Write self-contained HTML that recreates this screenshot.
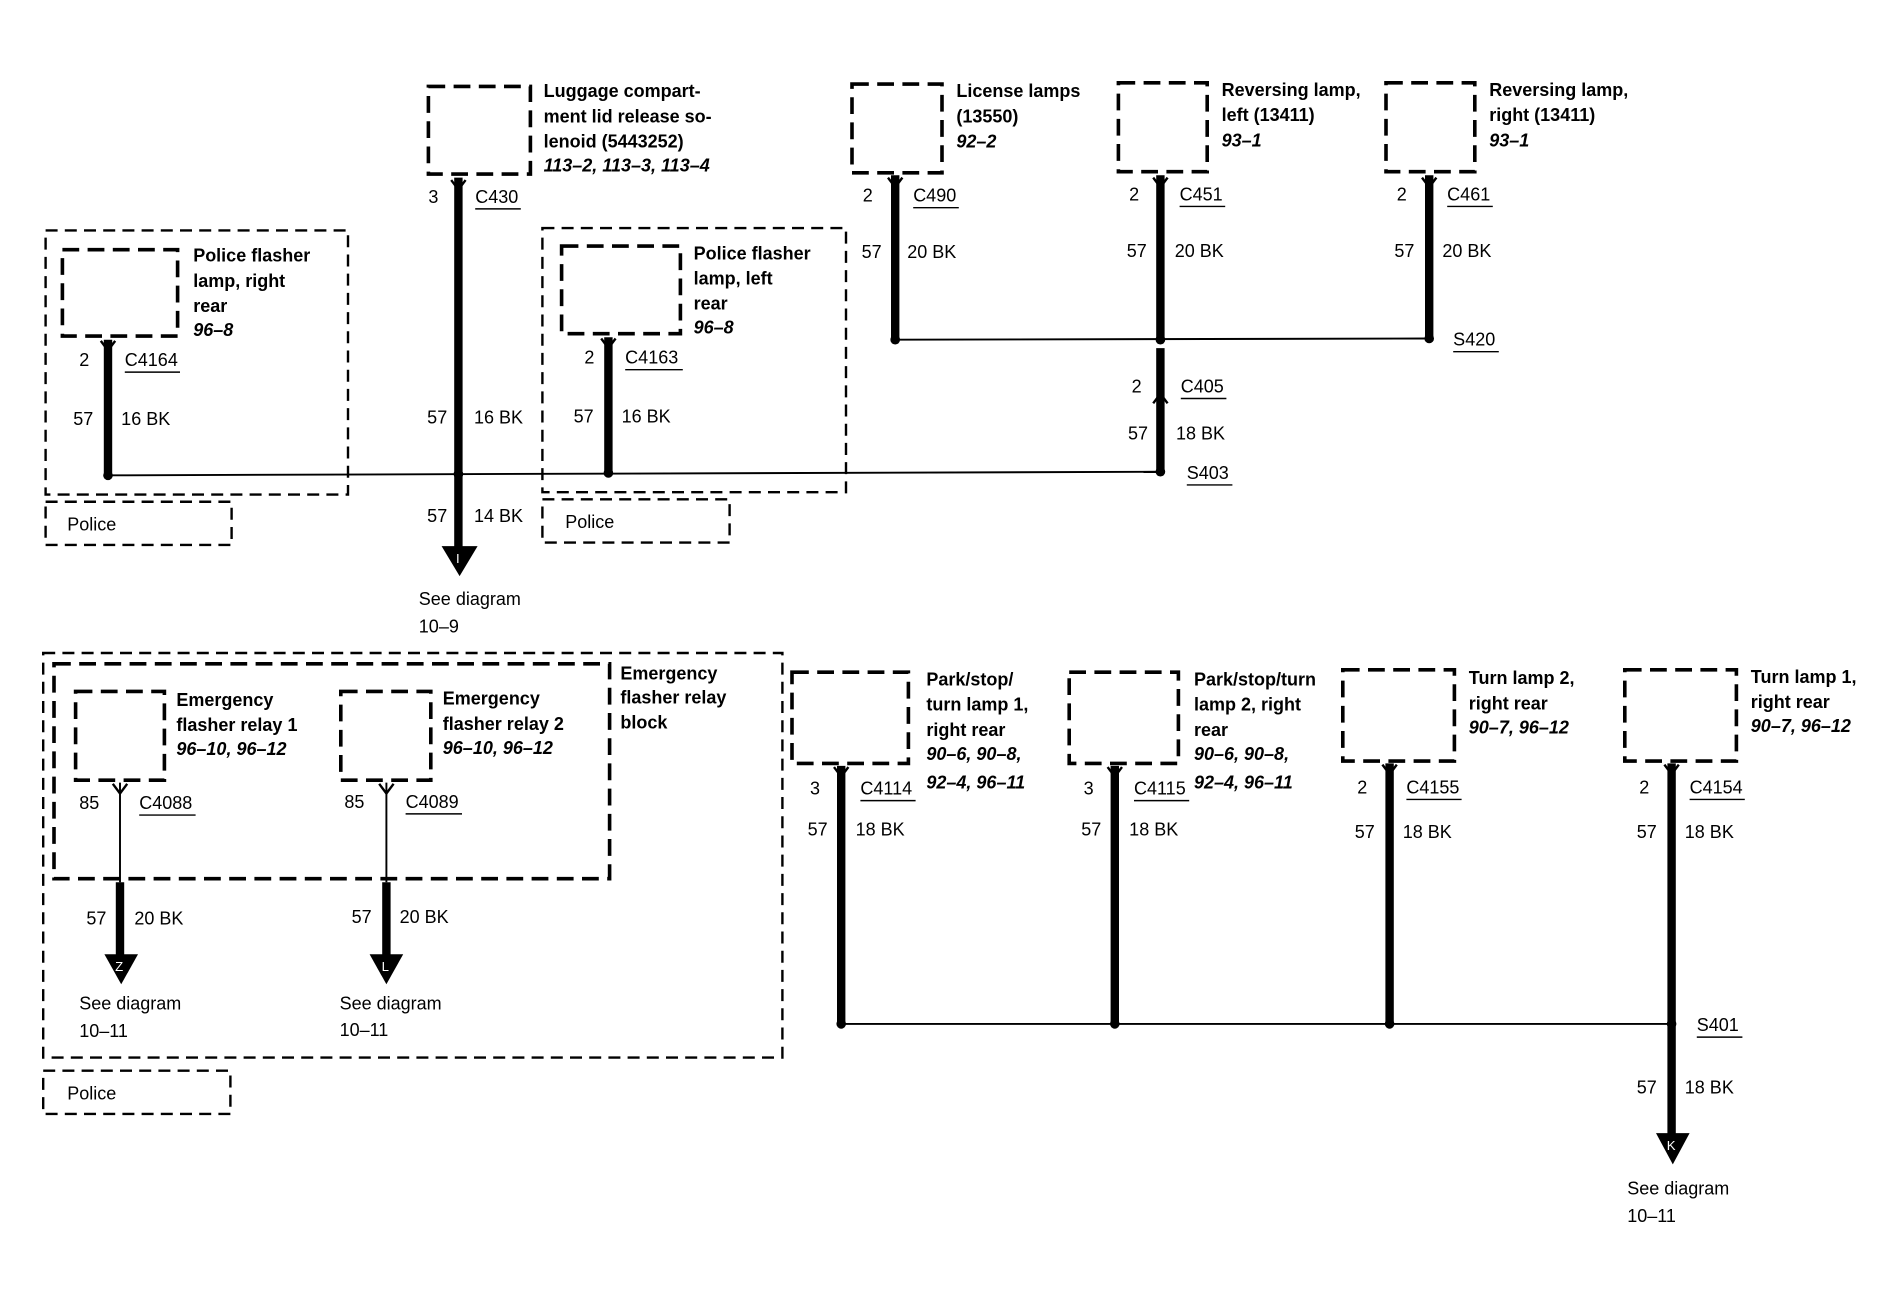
<!DOCTYPE html>
<html><head><meta charset="utf-8"><style>
html,body{margin:0;padding:0;background:#fff;}
svg{display:block}
text{font-family:"Liberation Sans",Arial,sans-serif;font-size:15px;fill:#000}
.b{font-weight:bold}
.i{font-weight:bold;font-style:italic}
.box{fill:none;stroke:#000;stroke-width:3;stroke-dasharray:14,7}
.obox{fill:none;stroke:#000;stroke-width:2;stroke-dasharray:10,6}
.w{stroke:#000;stroke-width:7}
.t{stroke:#000;stroke-width:1.6}
.u{stroke:#000;stroke-width:1.2}
</style></head><body>
<svg width="1884" height="1312" viewBox="0 0 1570 1093" preserveAspectRatio="none" xmlns="http://www.w3.org/2000/svg">
<defs>
<g id="chev"><path d="M-6,-6 L0,2 L6,-6" fill="none" stroke="#000" stroke-width="2"/></g>
</defs>

<!-- Luggage -->
<rect class="box" x="357" y="72" width="85" height="73"/>
<text class="b" x="453" y="81">Luggage compart-</text>
<text class="b" x="453" y="102">ment lid release so-</text>
<text class="b" x="453" y="123">lenoid (5443252)</text>
<text class="i" x="453" y="143">113–2, 113–3, 113–4</text>
<line class="w" x1="382" y1="148" x2="382" y2="457"/>
<use href="#chev" x="382" y="156"/>
<text x="357" y="169">3</text><text x="396" y="169">C430</text><line class="u" x1="396" y1="174" x2="434" y2="174"/>
<text x="356" y="353">57</text><text x="395" y="353">16 BK</text>
<text x="356" y="435">57</text><text x="395" y="435">14 BK</text>
<polygon points="368,455 398,455 383,480"/>
<text x="380" y="469" style="fill:#fff;font-size:11px">I</text>
<text x="349" y="504">See diagram</text><text x="349" y="527">10–9</text>

<!-- Police right rear -->
<rect class="obox" x="38" y="192" width="252" height="220"/>
<rect class="box" x="52" y="208" width="96" height="72"/>
<text class="b" x="161" y="218">Police flasher</text>
<text class="b" x="161" y="239">lamp, right</text>
<text class="b" x="161" y="260">rear</text>
<text class="i" x="161" y="280">96–8</text>
<line class="w" x1="90" y1="283" x2="90" y2="394"/>
<use href="#chev" x="90" y="290"/>
<text x="66" y="305">2</text><text x="104" y="305">C4164</text><line class="u" x1="104" y1="310" x2="150" y2="310"/>
<text x="61" y="354">57</text><text x="101" y="354">16 BK</text>
<rect class="obox" x="38" y="418" width="155" height="36"/>
<text x="56" y="442">Police</text>

<!-- Police left rear -->
<rect class="obox" x="452" y="190" width="253" height="220"/>
<rect class="box" x="468" y="205" width="99" height="73"/>
<text class="b" x="578" y="216">Police flasher</text>
<text class="b" x="578" y="237">lamp, left</text>
<text class="b" x="578" y="258">rear</text>
<text class="i" x="578" y="278">96–8</text>
<line class="w" x1="507" y1="281" x2="507" y2="392"/>
<use href="#chev" x="507" y="288"/>
<text x="487" y="303">2</text><text x="521" y="303">C4163</text><line class="u" x1="521" y1="308" x2="569" y2="308"/>
<text x="478" y="352">57</text><text x="518" y="352">16 BK</text>
<rect class="obox" x="452" y="416" width="156" height="36"/>
<text x="471" y="440">Police</text>

<!-- horizontal S403 -->
<line class="t" x1="90" y1="396" x2="967" y2="393"/>
<circle cx="90" cy="396" r="4"/><circle cx="382" cy="395" r="4"/><circle cx="507" cy="394" r="4"/><circle cx="967" cy="393" r="4"/>
<text x="989" y="399">S403</text><line class="u" x1="989" y1="404" x2="1027" y2="404"/>

<!-- License lamps -->
<rect class="box" x="710" y="70" width="75" height="74"/>
<text class="b" x="797" y="81">License lamps</text>
<text class="b" x="797" y="102">(13550)</text>
<text class="i" x="797" y="123">92–2</text>
<line class="w" x1="746" y1="146" x2="746" y2="283"/>
<use href="#chev" x="746" y="154"/>
<text x="719" y="168">2</text><text x="761" y="168">C490</text><line class="u" x1="761" y1="173" x2="799" y2="173"/>
<text x="718" y="215">57</text><text x="756" y="215">20 BK</text>

<!-- Reversing left -->
<rect class="box" x="932" y="69" width="74" height="74"/>
<text class="b" x="1018" y="80">Reversing lamp,</text>
<text class="b" x="1018" y="101">left (13411)</text>
<text class="i" x="1018" y="122">93–1</text>
<line class="w" x1="967" y1="146" x2="967" y2="283"/>
<use href="#chev" x="967" y="154"/>
<text x="941" y="167">2</text><text x="983" y="167">C451</text><line class="u" x1="983" y1="172" x2="1021" y2="172"/>
<text x="939" y="214">57</text><text x="979" y="214">20 BK</text>

<!-- Reversing right -->
<rect class="box" x="1155" y="69" width="74" height="74"/>
<text class="b" x="1241" y="80">Reversing lamp,</text>
<text class="b" x="1241" y="101">right (13411)</text>
<text class="i" x="1241" y="122">93–1</text>
<line class="w" x1="1191" y1="146" x2="1191" y2="282"/>
<use href="#chev" x="1191" y="154"/>
<text x="1164" y="167">2</text><text x="1206" y="167">C461</text><line class="u" x1="1206" y1="172" x2="1244" y2="172"/>
<text x="1162" y="214">57</text><text x="1202" y="214">20 BK</text>

<line class="t" x1="746" y1="283" x2="1191" y2="282"/>
<circle cx="746" cy="283" r="4"/><circle cx="967" cy="283" r="4"/><circle cx="1191" cy="282" r="4"/>
<text x="1211" y="288">S420</text><line class="u" x1="1211" y1="293" x2="1249" y2="293"/>

<line class="w" x1="967" y1="290" x2="967" y2="393"/>
<path d="M961,336 L967,328 L973,336" fill="none" stroke="#000" stroke-width="2"/>
<text x="943" y="327">2</text><text x="984" y="327">C405</text><line class="u" x1="984" y1="332" x2="1022" y2="332"/>
<text x="940" y="366">57</text><text x="980" y="366">18 BK</text>

<!-- Relay block -->
<rect class="obox" x="36" y="544" width="616" height="337"/>
<rect class="box" x="45" y="553" width="463" height="179"/>
<text class="b" x="517" y="566">Emergency</text>
<text class="b" x="517" y="586">flasher relay</text>
<text class="b" x="517" y="607">block</text>

<rect class="box" x="63" y="576" width="74" height="74"/>
<text class="b" x="147" y="588">Emergency</text>
<text class="b" x="147" y="609">flasher relay 1</text>
<text class="i" x="147" y="629">96–10, 96–12</text>
<line class="t" x1="100" y1="652" x2="100" y2="735"/>
<use href="#chev" x="100" y="659"/>
<line class="w" x1="100" y1="735" x2="100" y2="797"/>
<polygon points="87,795 115,795 101,820"/>
<text x="96" y="809" style="fill:#fff;font-size:11px">Z</text>
<text x="66" y="674">85</text><text x="116" y="674">C4088</text><line class="u" x1="116" y1="679" x2="163" y2="679"/>
<text x="72" y="770">57</text><text x="112" y="770">20 BK</text>
<text x="66" y="841">See diagram</text><text x="66" y="864">10–11</text>

<rect class="box" x="284" y="576" width="75" height="74"/>
<text class="b" x="369" y="587">Emergency</text>
<text class="b" x="369" y="608">flasher relay 2</text>
<text class="i" x="369" y="628">96–10, 96–12</text>
<line class="t" x1="322" y1="652" x2="322" y2="735"/>
<use href="#chev" x="322" y="659"/>
<line class="w" x1="322" y1="735" x2="322" y2="797"/>
<polygon points="308,795 336,795 322,820"/>
<text x="318" y="809" style="fill:#fff;font-size:11px">L</text>
<text x="287" y="673">85</text><text x="338" y="673">C4089</text><line class="u" x1="338" y1="678" x2="385" y2="678"/>
<text x="293" y="769">57</text><text x="333" y="769">20 BK</text>
<text x="283" y="841">See diagram</text><text x="283" y="863">10–11</text>

<rect class="obox" x="36" y="892" width="156" height="36"/>
<text x="56" y="916">Police</text>

<!-- Bottom right -->
<rect class="box" x="660" y="560" width="97" height="76"/>
<text class="b" x="772" y="571">Park/stop/</text>
<text class="b" x="772" y="592">turn lamp 1,</text>
<text class="b" x="772" y="613">right rear</text>
<text class="i" x="772" y="633">90–6, 90–8,</text>
<text class="i" x="772" y="657">92–4, 96–11</text>
<line class="w" x1="701" y1="638" x2="701" y2="853"/>
<use href="#chev" x="701" y="645"/>
<text x="675" y="662">3</text><text x="717" y="662">C4114</text><line class="u" x1="717" y1="667" x2="763" y2="667"/>
<text x="673" y="696">57</text><text x="713" y="696">18 BK</text>

<rect class="box" x="891" y="560" width="91" height="76"/>
<text class="b" x="995" y="571">Park/stop/turn</text>
<text class="b" x="995" y="592">lamp 2, right</text>
<text class="b" x="995" y="613">rear</text>
<text class="i" x="995" y="633">90–6, 90–8,</text>
<text class="i" x="995" y="657">92–4, 96–11</text>
<line class="w" x1="929" y1="638" x2="929" y2="853"/>
<use href="#chev" x="929" y="645"/>
<text x="903" y="662">3</text><text x="945" y="662">C4115</text><line class="u" x1="945" y1="667" x2="991" y2="667"/>
<text x="901" y="696">57</text><text x="941" y="696">18 BK</text>

<rect class="box" x="1119" y="558" width="93" height="76"/>
<text class="b" x="1224" y="570">Turn lamp 2,</text>
<text class="b" x="1224" y="591">right rear</text>
<text class="i" x="1224" y="611">90–7, 96–12</text>
<line class="w" x1="1158" y1="636" x2="1158" y2="853"/>
<use href="#chev" x="1158" y="643"/>
<text x="1131" y="661">2</text><text x="1172" y="661">C4155</text><line class="u" x1="1172" y1="666" x2="1218" y2="666"/>
<text x="1129" y="698">57</text><text x="1169" y="698">18 BK</text>

<rect class="box" x="1354" y="558" width="93" height="76"/>
<text class="b" x="1459" y="569">Turn lamp 1,</text>
<text class="b" x="1459" y="590">right rear</text>
<text class="i" x="1459" y="610">90–7, 96–12</text>
<line class="w" x1="1393" y1="636" x2="1393" y2="946"/>
<use href="#chev" x="1393" y="643"/>
<text x="1366" y="661">2</text><text x="1408" y="661">C4154</text><line class="u" x1="1408" y1="666" x2="1454" y2="666"/>
<text x="1364" y="698">57</text><text x="1404" y="698">18 BK</text>
<polygon points="1380,944 1408,944 1394,970"/>
<text x="1389" y="958" style="fill:#fff;font-size:11px">K</text>
<text x="1364" y="911">57</text><text x="1404" y="911">18 BK</text>
<text x="1356" y="995">See diagram</text><text x="1356" y="1018">10–11</text>

<line class="t" x1="701" y1="853" x2="1393" y2="853"/>
<circle cx="701" cy="853" r="4"/><circle cx="929" cy="853" r="4"/><circle cx="1158" cy="853" r="4"/><circle cx="1393" cy="853" r="4"/>
<text x="1414" y="859">S401</text><line class="u" x1="1414" y1="864" x2="1452" y2="864"/>
</svg>
</body></html>
